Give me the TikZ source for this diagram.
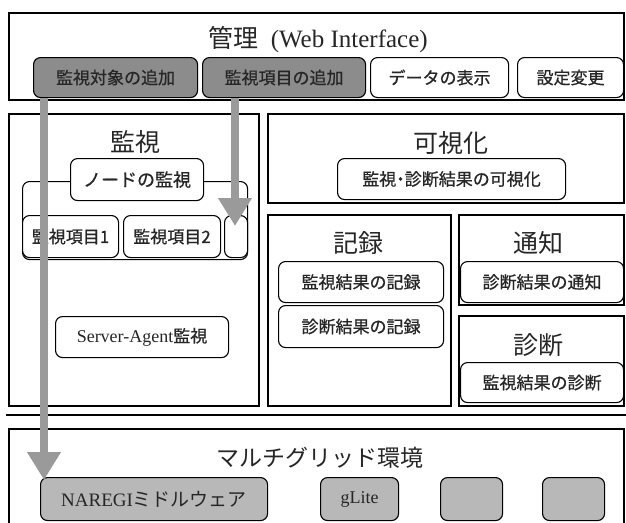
\documentclass[tikz,border=0pt]{standalone}
\usepackage{fontspec}
\setmainfont{Liberation Serif}
\newfontfamily\jp{Noto Sans CJK JP}
\newfontfamily\jpm[FakeBold=0.7]{Noto Sans CJK JP}
\usetikzlibrary{arrows.meta}
\definecolor{btngray}{HTML}{8C8C8C}
\definecolor{envgray}{HTML}{B8B8B8}
\definecolor{arrgray}{HTML}{9A9A9A}
\begin{document}
\begin{tikzpicture}[x=1pt,y=-1pt,
  frame/.style={draw=black, line width=2pt, anchor=north west, inner sep=0pt},
  item/.style={draw=black, line width=1.1pt, rounded corners=7pt, anchor=north west,
    inner sep=0pt, fill=white, text=black!85, font=\jpm\fontsize{17}{17}\selectfont},
  darkitem/.style={item, fill=btngray},
  envitem/.style={item, fill=envgray},
  title/.style={inner sep=0pt, text=black!85, font=\jp\fontsize{25}{25}\selectfont},
  flow/.style={draw=arrgray, line width=8pt, -{Triangle[width=32pt 0, length=28pt 0]}}
]
\clip (0,0) rectangle (626,522);
\fill[white] (0,0) rectangle (626,522);

% top: management
\node[frame, minimum width=615, minimum height=87] (top) at (8,12) {};
\node[title] (ttop) at (318,40) {管理\hspace{0.5em}{\rmfamily\fontsize{25}{25}\selectfont (Web Interface)}};
\node[darkitem, minimum width=164, minimum height=40] (b1) at (33,57) {監視対象の追加};
\node[darkitem, minimum width=163, minimum height=40] (b2) at (202,57) {監視項目の追加};
\node[item, minimum width=138, minimum height=40] (b3) at (370,57) {データの表示};
\node[item, minimum width=106, minimum height=40] (b4) at (517,57) {設定変更};

% monitoring
\node[frame, minimum width=250, minimum height=292] (mon) at (8,113) {};
\node[title] (tmon) at (135,142) {監視};
\node[item, minimum width=225, minimum height=78] (cont) at (22,181) {};
\node[item, minimum width=133, minimum height=42, font=\jpm\fontsize{18}{18}\selectfont] (node) at (70,158) {ノードの監視};
\node[item, minimum width=96, minimum height=42] (i1) at (22,215) {監視項目1};
\node[item, minimum width=97, minimum height=42] (i2) at (123,215) {監視項目2};
\node[item, minimum width=23, minimum height=42] (i3) at (224,215) {};
\node[item, minimum width=173, minimum height=41] (sa) at (55,316) {{\rmfamily\fontsize{18}{18}\selectfont Server-Agent}監視};

% visualization
\node[frame, minimum width=356, minimum height=89] (vis) at (267,113) {};
\node[title] (tvis) at (451,143) {可視化};
\node[item, minimum width=228, minimum height=41] (v1) at (337,158) {監視{\kern-0.25em}・{\kern-0.25em}診断結果の可視化};

% record
\node[frame, minimum width=183, minimum height=191] (rec) at (267,214) {};
\node[title] (trec) at (358,243) {記録};
\node[item, minimum width=165, minimum height=41] (r1) at (278,261) {監視結果の記録};
\node[item, minimum width=165, minimum height=42] (r2) at (278,305) {診断結果の記録};

% notification
\node[frame, minimum width=165, minimum height=90] (ntf) at (458,214) {};
\node[title] (tntf) at (538,243) {通知};
\node[item, minimum width=163, minimum height=41] (n1) at (460,261) {診断結果の通知};

% diagnosis
\node[frame, minimum width=165, minimum height=90] (dia) at (458,315) {};
\node[title] (tdia) at (538,345) {診断};
\node[item, minimum width=163, minimum height=40] (d1) at (460,362) {監視結果の診断};

% separator
\draw[line width=1.6pt] (6,415) -- (626,415);

% multigrid environment
\node[frame, minimum width=615, minimum height=120] (env) at (8,428) {};
\node[title, font=\jp\fontsize{23}{23}\selectfont] (tenv) at (320,458) {マルチグリッド環境};
\node[envitem, minimum width=227, minimum height=43, font=\jp\fontsize{19}{19}\selectfont] (g1) at (40,477) {{\rmfamily NAREGI}ミドルウェア};
\node[envitem, minimum width=78, minimum height=43] (g2) at (320,477) {\rmfamily\fontsize{18}{18}\selectfont gLite};
\node[envitem, minimum width=62, minimum height=43] (g3) at (440,477) {};
\node[envitem, minimum width=62, minimum height=43] (g4) at (542,477) {};

% arrows
\coordinate (a1e) at (44,480);
\coordinate (a2e) at (235,226);
\draw[flow] (b1.south -| a1e) -- (a1e);
\draw[flow] (b2.south -| a2e) -- (a2e);
\end{tikzpicture}
\end{document}
